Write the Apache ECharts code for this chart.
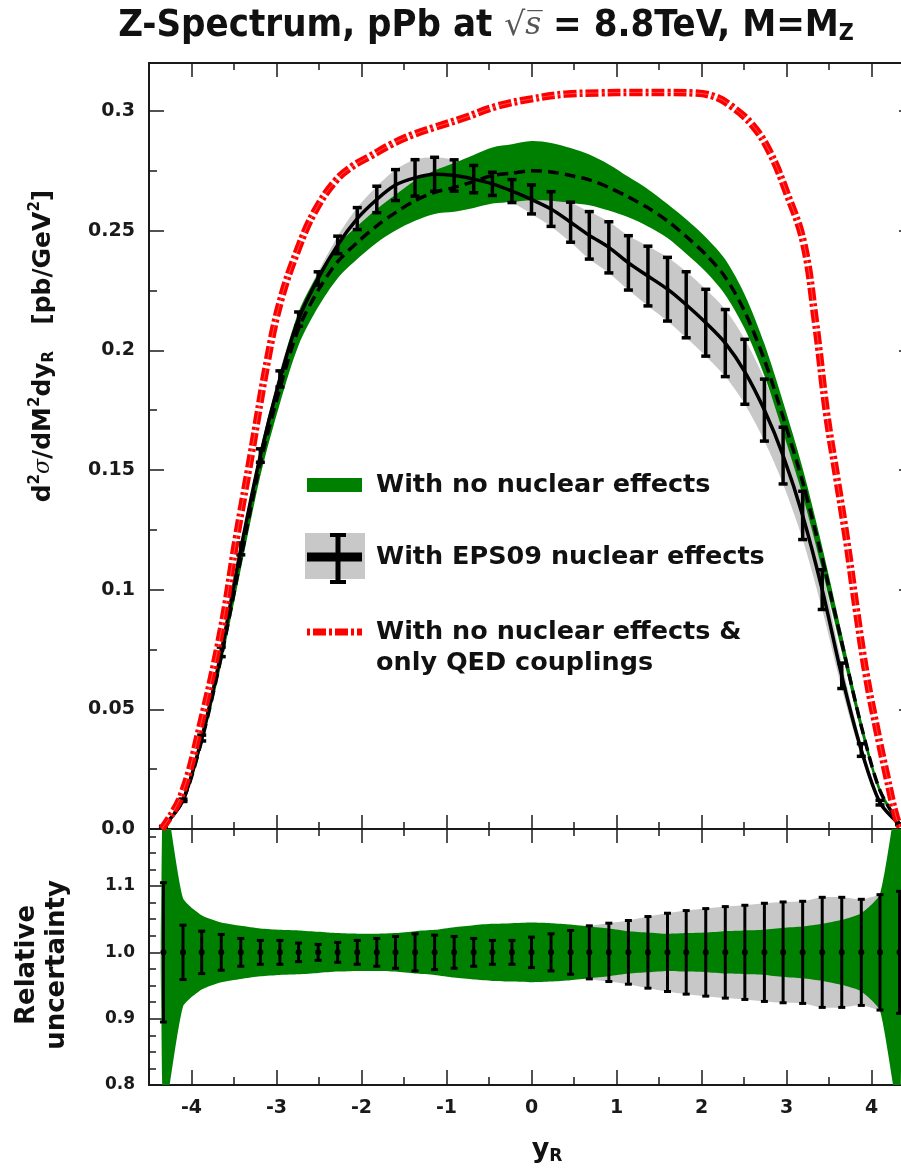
<!DOCTYPE html>
<html lang="en">
<head>
<meta charset="UTF-8">
<title>Z-Spectrum, pPb</title>
<script src="https://cdn.jsdelivr.net/npm/echarts@6.0.0/dist/echarts.min.js"></script>
<style>
  html, body { margin: 0; padding: 0; background: #fff; }
  #chart { width: 901px; height: 1169px; }
</style>
</head>
<body>
<div id="chart"></div>
<script>
// rapidity points (y_R) of the EPS09 error bars
const yR = [-4.33, -4.10, -3.88, -3.65, -3.42, -3.19, -2.96, -2.74, -2.51, -2.28,
  -2.05, -1.82, -1.60, -1.37, -1.14, -0.91, -0.68, -0.46, -0.23, 0,
  0.23, 0.46, 0.68, 0.91, 1.14, 1.37, 1.60, 1.82, 2.05, 2.28,
  2.51, 2.74, 2.96, 3.19, 3.42, 3.65, 3.88, 4.10, 4.33];

// with EPS09 nuclear effects: central value and relative uncertainty
const eps09 = [0.001, 0.012, 0.038, 0.074, 0.117, 0.156, 0.188, 0.213, 0.230, 0.244,
  0.255, 0.263, 0.269, 0.272, 0.2735, 0.273, 0.2715, 0.2695, 0.2665, 0.263,
  0.259, 0.2535, 0.248, 0.243, 0.2365, 0.231, 0.2255, 0.219, 0.2115, 0.203,
  0.191, 0.175, 0.156, 0.131, 0.100, 0.064, 0.033, 0.011, 0.002];
const eps09Rel = [0.105, 0.041, 0.032, 0.027, 0.021, 0.018, 0.018, 0.014, 0.012, 0.015,
  0.018, 0.021, 0.024, 0.028, 0.026, 0.024, 0.021, 0.018, 0.018, 0.023,
  0.028, 0.033, 0.040, 0.044, 0.048, 0.054, 0.059, 0.063, 0.066, 0.069,
  0.071, 0.074, 0.076, 0.077, 0.083, 0.083, 0.080, 0.087, 0.092];

// no nuclear effects: central (dashed) and relative width of the green band
const noNuc = [0.001, 0.012, 0.037, 0.072, 0.113, 0.153, 0.184, 0.209, 0.225, 0.237,
  0.245, 0.252, 0.2575, 0.2625, 0.266, 0.268, 0.2705, 0.273, 0.274, 0.275,
  0.2745, 0.273, 0.2712, 0.268, 0.264, 0.2595, 0.254, 0.2475, 0.240, 0.2305,
  0.216, 0.196, 0.172, 0.145, 0.113, 0.078, 0.043, 0.016, 0.002];
const noNucRel = [0.25, 0.082, 0.056, 0.045, 0.040, 0.036, 0.034, 0.033, 0.031, 0.029,
  0.028, 0.028, 0.029, 0.032, 0.034, 0.038, 0.041, 0.043, 0.044, 0.045,
  0.044, 0.042, 0.039, 0.036, 0.032, 0.030, 0.028, 0.029, 0.030, 0.032,
  0.033, 0.034, 0.037, 0.039, 0.043, 0.049, 0.059, 0.088, 0.25];

// no nuclear effects, only QED couplings (red dash-dot)
const qedX = [-4.35, -4.12, -3.89, -3.65, -3.47, -3.30, -3.10, -2.95, -2.75, -2.55,
  -2.30, -2.10, -1.90, -1.65, -1.40, -1.15, -0.80, -0.40, 0.0, 0.40,
  0.80, 1.20, 1.60, 1.90, 2.15, 2.35, 2.60, 2.80, 3.00, 3.20,
  3.34, 3.47, 3.59, 3.71, 3.82, 3.94, 4.06, 4.18, 4.29, 4.35];
const qedY = [0.000, 0.014, 0.044, 0.083, 0.122, 0.156, 0.197, 0.221, 0.242, 0.258,
  0.271, 0.277, 0.281, 0.286, 0.290, 0.293, 0.297, 0.302, 0.305, 0.307,
  0.3075, 0.3077, 0.3077, 0.3075, 0.306, 0.302, 0.294, 0.283, 0.266, 0.245,
  0.212, 0.174, 0.147, 0.120, 0.092, 0.064, 0.042, 0.022, 0.005, 0.000];

// axis ticks
const xTicks = [-4, -3, -2, -1, 0, 1, 2, 3, 4];
const xMinor = [-3.5, -2.5, -1.5, -0.5, 0.5, 1.5, 2.5, 3.5];
const yTicksMain = [0, 0.05, 0.1, 0.15, 0.2, 0.25, 0.3];
const yMinorMain = [0.025, 0.075, 0.125, 0.175, 0.225, 0.275];
const yTicksRatio = [0.8, 0.9, 1.0, 1.1];
const yMinorRatio = [0.825, 0.85, 0.875, 0.925, 0.95, 0.975, 1.025, 1.05, 1.075, 1.125, 1.15, 1.175];

const chart = echarts.init(document.getElementById('chart'));
const INK = '#1a1a1a';
const GREEN = '#008000';
const GRAY = '#c8c8c8';

function xAx(grid, pos, vals, len, label) {
  return {
    type: 'value', gridIndex: grid, position: pos, min: -4.5, max: 4.5,
    axisLine: { show: false, onZero: false }, splitLine: { show: false },
    axisTick: { show: true, inside: true, length: len, customValues: vals, lineStyle: { color: INK, width: 1.5 } },
    axisLabel: label ? {
      show: true, customValues: vals, margin: 14, color: INK,
      fontFamily: 'DejaVu Sans', fontWeight: 'bold', fontSize: 19,
      formatter: v => String(v)
    } : { show: false }
  };
}
function yAx(grid, pos, min, max, vals, len, label) {
  return {
    type: 'value', gridIndex: grid, position: pos, min: min, max: max,
    axisLine: { show: false, onZero: false }, splitLine: { show: false },
    axisTick: { show: true, inside: true, length: len, customValues: vals, lineStyle: { color: INK, width: 1.5 } },
    axisLabel: label ? Object.assign({ show: true, customValues: vals, margin: 14, color: INK,
      fontFamily: 'DejaVu Sans', fontWeight: 'bold', fontSize: 19 }, label) : { show: false }
  };
}

function line(name, ax, data, extra) {
  return Object.assign({
    name: name, type: 'line', xAxisIndex: ax, yAxisIndex: ax, data: data,
    symbol: 'none', smooth: 0.3, silent: true, animation: false,
    lineStyle: { width: 0 }, z: 2
  }, extra);
}

// filled band between lo[] and hi[], drawn once as a smoothed polygon
function band(name, ax, xs, lo, hi, color, smooth) {
  return {
    type: 'custom', name: name, xAxisIndex: ax, yAxisIndex: ax, z: 2, clip: true,
    silent: true, animation: false, encode: { x: 0, y: [1, 2] },
    data: xs.map((x, i) => [x, lo[i], hi[i]]),
    renderItem: function (params, api) {
      if (params.dataIndex !== 0) return null;
      const up = xs.map((x, i) => api.coord([x, hi[i]]));
      const dn = xs.map((x, i) => api.coord([x, lo[i]])).reverse();
      return { type: 'polygon', shape: { points: up.concat(dn), smooth: smooth }, style: { fill: color } };
    }
  };
}

function errBar(capHalf, lw, dot) {
  return function (params, api) {
    const x = api.value(0);
    const pLo = api.coord([x, api.value(1)]);
    const pHi = api.coord([x, api.value(2)]);
    const st = { stroke: '#000', lineWidth: lw };
    const kids = [
      { type: 'line', shape: { x1: pLo[0], y1: pLo[1], x2: pHi[0], y2: pHi[1] }, style: st },
      { type: 'line', shape: { x1: pLo[0] - capHalf, y1: pLo[1], x2: pLo[0] + capHalf, y2: pLo[1] }, style: st },
      { type: 'line', shape: { x1: pHi[0] - capHalf, y1: pHi[1], x2: pHi[0] + capHalf, y2: pHi[1] }, style: st }
    ];
    if (dot) {
      const pm = api.coord([x, api.value(3)]);
      kids.push({ type: 'circle', shape: { cx: pm[0], cy: pm[1], r: dot }, style: { fill: '#000' } });
    }
    return { type: 'group', children: kids };
  };
}

const series = [
  // main panel
  band('EPS09 band', 0, yR, eps09.map((c, i) => c * (1 - eps09Rel[i])), eps09.map((c, i) => c * (1 + eps09Rel[i])), GRAY, 0.3),
  band('no nuclear band', 0, yR, noNuc.map((c, i) => c * (1 - noNucRel[i])), noNuc.map((c, i) => c * (1 + noNucRel[i])), GREEN, 0.3),
  line('No nuclear effects', 0, yR.map((x, i) => [x, noNuc[i]]), { lineStyle: { color: '#000', width: 3.5, type: [11, 6] }, z: 3 }),
  line('EPS09', 0, yR.map((x, i) => [x, eps09[i]]), { lineStyle: { color: '#000', width: 3.5 }, z: 4 }),
  {
    type: 'custom', name: 'EPS09 err', xAxisIndex: 0, yAxisIndex: 0, z: 5, silent: true, animation: false,
    renderItem: errBar(4.5, 3.5, 0), encode: { x: 0, y: [1, 2] },
    data: yR.map((x, i) => [x, eps09[i] * (1 - eps09Rel[i]), eps09[i] * (1 + eps09Rel[i])])
  },
  line('QED', 0, qedX.map((x, i) => [x, qedY[i]]), { smooth: 0.4, lineStyle: { color: '#ff0000', width: 7.5, type: [13, 3, 3, 3] }, z: 6 }),
  line('QED hl', 0, qedX.map((x, i) => [x, qedY[i]]), { smooth: 0.4, lineStyle: { color: '#fff', width: 1, opacity: 0.3, type: [13, 3, 3, 3] }, z: 7 }),

  // ratio panel
  band('EPS09 rel band', 4, yR, eps09Rel.map(e => 1 - e), eps09Rel.map(e => 1 + e), GRAY, 0.3),
  band('no nuclear rel band', 4, yR, noNucRel.map(e => 1 - e), noNucRel.map(e => 1 + e), GREEN, 0.2),
  {
    type: 'custom', name: 'EPS09 rel err', xAxisIndex: 4, yAxisIndex: 4, z: 5, silent: true, animation: false,
    renderItem: errBar(3.5, 3, 3), encode: { x: 0, y: [1, 2] },
    data: yR.map((x, i) => [x, 1 - eps09Rel[i], 1 + eps09Rel[i], 1])
  }
];

const bold = 'DejaVu Sans';
const titleFont = '"Liberation Sans Narrow", "DejaVu Sans Condensed", sans-serif';
const legendText = (txt, y) => ({
  type: 'text', x: 376, y: y, z: 20,
  style: { text: txt, fill: '#111', font: 'bold 25.5px "DejaVu Sans"', verticalAlign: 'middle' }
});

const option = {
  backgroundColor: '#fff',
  animation: false,
  grid: [
    { left: 149, top: 63, width: 765, height: 766, show: true, borderColor: INK, borderWidth: 2,
      backgroundColor: 'transparent', containLabel: false, outerBoundsMode: 'none' },
    { left: 149, top: 829, width: 765, height: 256, show: true, borderColor: INK, borderWidth: 2,
      backgroundColor: 'transparent', containLabel: false, outerBoundsMode: 'none' }
  ],
  xAxis: [
    xAx(0, 'bottom', xTicks, 14, false),
    xAx(0, 'bottom', xMinor, 7, false),
    xAx(0, 'top', xTicks, 14, false),
    xAx(0, 'top', xMinor, 7, false),
    xAx(1, 'bottom', xTicks, 15, true),
    xAx(1, 'bottom', xMinor, 8, false),
    xAx(1, 'top', xTicks, 14, false),
    xAx(1, 'top', xMinor, 7, false)
  ],
  yAxis: [
    yAx(0, 'left', 0, 0.32, yTicksMain, 15, { formatter: v => v === 0 ? '0.0' : String(+v.toFixed(2)) }),
    yAx(0, 'left', 0, 0.32, yMinorMain, 8, null),
    yAx(0, 'right', 0, 0.32, yTicksMain, 15, null),
    yAx(0, 'right', 0, 0.32, yMinorMain, 8, null),
    yAx(1, 'left', 0.8, 1.186, yTicksRatio, 15, { fontSize: 17, formatter: v => v.toFixed(1) }),
    yAx(1, 'left', 0.8, 1.186, yMinorRatio, 7, null),
    yAx(1, 'right', 0.8, 1.186, yTicksRatio, 15, null),
    yAx(1, 'right', 0.8, 1.186, yMinorRatio, 7, null)
  ],
  series: series,
  graphic: [
    // title
    {
      type: 'text', x: 486, y: 26, z: 20,
      style: {
        text: '{a|Z-Spectrum, pPb at }{r|√}{s|s\u0305}{a| = 8.8TeV, M=M}{z|Z}',
        align: 'center', verticalAlign: 'middle',
        rich: {
          a: { fontFamily: titleFont, fontWeight: 'bold', fontSize: 38, fill: '#111' },
          r: { fontFamily: 'DejaVu Serif', fontSize: 33, fill: '#555' },
          s: { fontFamily: 'DejaVu Serif', fontStyle: 'italic', fontSize: 31, fill: '#555' },
          z: { fontFamily: titleFont, fontWeight: 'bold', fontSize: 23, fill: '#111', padding: [16, 0, 0, 0] }
        }
      }
    },
    // y axis title, main panel
    {
      type: 'text', x: 43, y: 346, rotation: Math.PI / 2, z: 20,
      style: {
        text: '{b|d}{p|2}{g|σ}{b|/dM}{p|2}{b|dy}{q|R}{b|   [pb/GeV}{p|2}{b|]}',
        align: 'center', verticalAlign: 'middle',
        rich: {
          b: { fontFamily: bold, fontWeight: 'bold', fontSize: 25, fill: '#111' },
          g: { fontFamily: 'DejaVu Serif', fontStyle: 'italic', fontSize: 22, fill: '#111' },
          p: { fontFamily: bold, fontWeight: 'bold', fontSize: 15, fill: '#111', padding: [0, 0, 16, 0] },
          q: { fontFamily: bold, fontWeight: 'bold', fontSize: 15, fill: '#111', padding: [12, 0, 0, 0] }
        }
      }
    },
    // y axis title, ratio panel
    {
      type: 'text', x: 42, y: 965, rotation: Math.PI / 2, z: 20,
      style: {
        text: 'Relative\nuncertainty', align: 'center', verticalAlign: 'middle',
        font: 'bold 26px "DejaVu Sans"', lineHeight: 30, fill: '#111'
      }
    },
    // x axis title
    {
      type: 'text', x: 547, y: 1150, z: 20,
      style: {
        text: '{b|y}{q|R}', align: 'center', verticalAlign: 'middle',
        rich: {
          b: { fontFamily: bold, fontWeight: 'bold', fontSize: 27, fill: '#111' },
          q: { fontFamily: bold, fontWeight: 'bold', fontSize: 17, fill: '#111', padding: [14, 0, 0, 0] }
        }
      }
    },
    // legend
    { type: 'rect', z: 20, shape: { x: 307, y: 478, width: 55, height: 14 }, style: { fill: GREEN } },
    legendText('With no nuclear effects', 485),
    { type: 'rect', z: 20, shape: { x: 305, y: 533, width: 60, height: 46 }, style: { fill: GRAY } },
    { type: 'line', z: 21, shape: { x1: 307, y1: 557, x2: 362, y2: 557 }, style: { stroke: '#000', lineWidth: 9 } },
    { type: 'line', z: 21, shape: { x1: 338, y1: 534, x2: 338, y2: 583 }, style: { stroke: '#000', lineWidth: 5 } },
    { type: 'line', z: 21, shape: { x1: 330, y1: 535, x2: 346, y2: 535 }, style: { stroke: '#000', lineWidth: 4 } },
    { type: 'line', z: 21, shape: { x1: 330, y1: 582, x2: 346, y2: 582 }, style: { stroke: '#000', lineWidth: 4 } },
    legendText('With EPS09 nuclear effects', 557),
    { type: 'line', z: 20, shape: { x1: 307, y1: 632, x2: 362, y2: 632 }, style: { stroke: '#ff0000', lineWidth: 7, lineDash: [3, 3, 13, 3] } },
    legendText('With no nuclear effects &', 632),
    legendText('only QED couplings', 663)
  ]
};

chart.setOption(option);
</script>
</body>
</html>
